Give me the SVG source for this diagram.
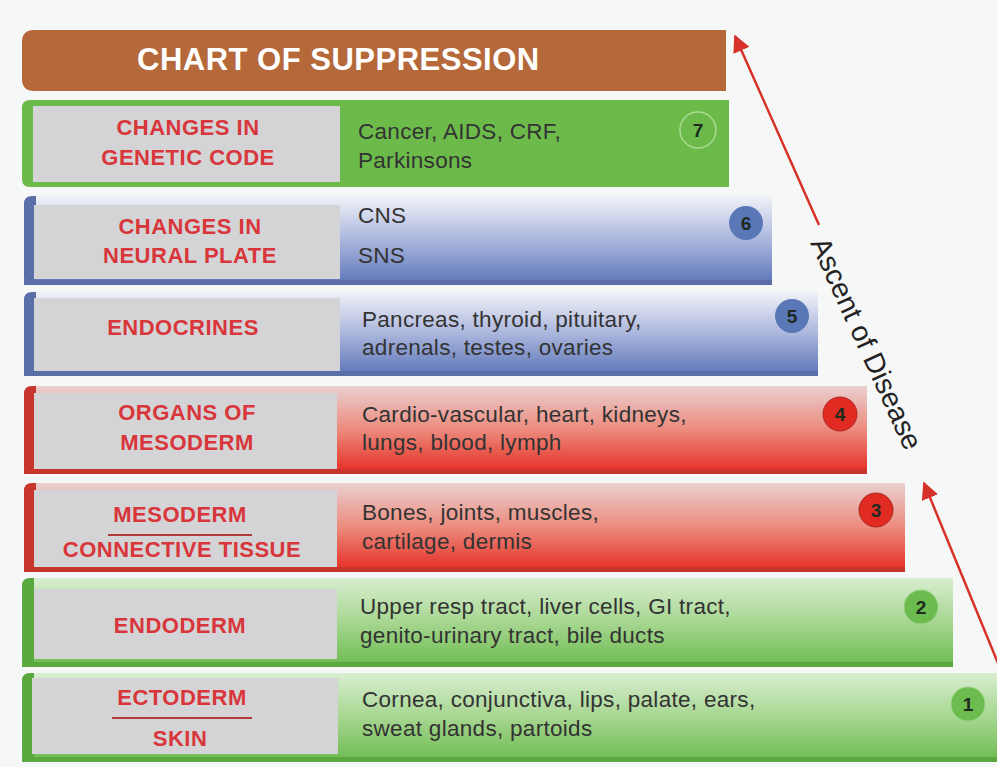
<svg xmlns="http://www.w3.org/2000/svg" width="997" height="767" viewBox="0 0 997 767">
<defs>
<linearGradient id="gBlue" x1="0" y1="0" x2="0" y2="1"><stop offset="0" stop-color="#f1f2f8"/><stop offset="0.5" stop-color="#a9b5dc"/><stop offset="1" stop-color="#5b74b8"/></linearGradient>
<linearGradient id="gRed" x1="0" y1="0" x2="0" y2="1"><stop offset="0" stop-color="#ead0d0"/><stop offset="0.5" stop-color="#ec8a7c"/><stop offset="1" stop-color="#e52a20"/></linearGradient>
<linearGradient id="gGreen" x1="0" y1="0" x2="0" y2="1"><stop offset="0" stop-color="#d8eed0"/><stop offset="0.5" stop-color="#a6d690"/><stop offset="1" stop-color="#6cbb4f"/></linearGradient>
<marker id="ah" viewBox="0 0 10 10" refX="9" refY="5" markerWidth="7" markerHeight="7" orient="auto"><path d="M0,0 L10,5 L0,10 z" fill="#d6322a"/></marker>
</defs>
<style>
.lbl{fill:#d8363a;font-family:"Liberation Sans",Arial,sans-serif;font-weight:bold;font-size:22px;letter-spacing:0.5px;text-anchor:middle}
.txt{fill:#333;font-family:"Liberation Sans",Arial,sans-serif;font-size:22.5px;letter-spacing:0.3px}
.box{fill:#d4d4d6}
.num{font-family:"Liberation Sans",Arial,sans-serif;font-weight:bold;font-size:19px;text-anchor:middle;fill:#1e2a1e}
.conn{stroke:#d6322a;stroke-width:2.5;fill:none}
</style>
<rect width="997" height="767" fill="#f6f7f7"/>

<g id="title">
<path d="M34,30 H726 V91 H34 Q22,91 22,79 V42 Q22,30 34,30 Z" fill="#b5683a"/>
<text x="137" y="70" font-family="'Liberation Sans',Arial,sans-serif" font-weight="bold" font-size="31" letter-spacing="0.5" fill="#ffffff">CHART OF SUPPRESSION</text>
</g>

<g id="row7">
<path d="M30,100 H729 V187 H30 Q22,187 22,179 V108 Q22,100 30,100 Z" fill="#6cba4a"/>
<rect class="box" x="33" y="106" width="307" height="76"/>
<text class="lbl" x="188" y="135">CHANGES IN</text>
<text class="lbl" x="188" y="165">GENETIC CODE</text>
<text class="txt" x="358" y="139">Cancer, AIDS, CRF,</text>
<text class="txt" x="358" y="168">Parkinsons</text>
<circle cx="698" cy="130" r="18" fill="#6cba4a" stroke="#a9dc92" stroke-width="1.5"/>
<text class="num" x="698" y="137">7</text>
</g>

<g id="row6">
<path d="M32,196 H772 V285 H32 Q24,285 24,277 V204 Q24,196 32,196 Z" fill="url(#gBlue)"/>
<path d="M32,196 Q24,196 24,204 V277 Q24,285 32,285 H36 V196 Z" fill="#5a6ea8"/>
<rect x="24" y="280" width="748" height="5" fill="#5a6ea8"/>
<rect class="box" x="34" y="205" width="306" height="74"/>
<text class="lbl" x="190" y="234">CHANGES IN</text>
<text class="lbl" x="190" y="263">NEURAL PLATE</text>
<text class="txt" x="358" y="223">CNS</text>
<text class="txt" x="358" y="263">SNS</text>
<circle cx="746" cy="223" r="17" fill="#5a77b8"/>
<text class="num" x="746" y="230">6</text>
</g>

<g id="row5">
<path d="M32,292 H818 V376 H32 Q24,376 24,368 V300 Q24,292 32,292 Z" fill="url(#gBlue)"/>
<path d="M32,292 Q24,292 24,300 V368 Q24,376 32,376 H36 V292 Z" fill="#5a6ea8"/>
<rect x="24" y="371" width="794" height="5" fill="#5a6ea8"/>
<rect class="box" x="34" y="298" width="306" height="73"/>
<text class="lbl" x="183" y="335">ENDOCRINES</text>
<text class="txt" x="362" y="327">Pancreas, thyroid, pituitary,</text>
<text class="txt" x="362" y="355">adrenals, testes, ovaries</text>
<circle cx="792" cy="316" r="17" fill="#5a77b8"/>
<text class="num" x="792" y="323">5</text>
</g>

<g id="row4">
<path d="M32,386 H867 V474 H32 Q24,474 24,466 V394 Q24,386 32,386 Z" fill="url(#gRed)"/>
<path d="M32,386 Q24,386 24,394 V466 Q24,474 32,474 H36 V386 Z" fill="#c8352c"/>
<rect x="24" y="469" width="843" height="5" fill="#c8352c"/>
<rect class="box" x="34" y="393" width="303" height="76"/>
<text class="lbl" x="187" y="420">ORGANS OF</text>
<text class="lbl" x="187" y="450">MESODERM</text>
<text class="txt" x="362" y="422">Cardio-vascular, heart, kidneys,</text>
<text class="txt" x="362" y="450">lungs, blood, lymph</text>
<circle cx="840" cy="414" r="17" fill="#e02a22" stroke="#a82a22" stroke-width="1"/>
<text class="num" x="840" y="421">4</text>
</g>

<g id="row3">
<path d="M32,483 H905 V572 H32 Q24,572 24,564 V491 Q24,483 32,483 Z" fill="url(#gRed)"/>
<path d="M32,483 Q24,483 24,491 V564 Q24,572 32,572 H36 V483 Z" fill="#c8352c"/>
<rect x="24" y="567" width="881" height="5" fill="#c8352c"/>
<rect class="box" x="34" y="490" width="303" height="77"/>
<text class="lbl" x="180" y="522">MESODERM</text>
<line x1="108" y1="535" x2="252" y2="535" stroke="#b23a3a" stroke-width="2"/>
<text class="lbl" x="182" y="557">CONNECTIVE TISSUE</text>
<text class="txt" x="362" y="520">Bones, joints, muscles,</text>
<text class="txt" x="362" y="549">cartilage, dermis</text>
<circle cx="876" cy="510" r="17" fill="#e02a22" stroke="#a82a22" stroke-width="1"/>
<text class="num" x="876" y="517">3</text>
</g>

<g id="row2">
<path d="M30,578 H953 V667 H30 Q22,667 22,659 V586 Q22,578 30,578 Z" fill="url(#gGreen)"/>
<path d="M30,578 Q22,578 22,586 V659 Q22,667 30,667 H34 V578 Z" fill="#5aa93e"/>
<rect x="22" y="662" width="931" height="5" fill="#5aa93e"/>
<rect class="box" x="34" y="589" width="303" height="70"/>
<text class="lbl" x="180" y="633">ENDODERM</text>
<text class="txt" x="360" y="614">Upper resp tract, liver cells, GI tract,</text>
<text class="txt" x="360" y="643">genito-urinary tract, bile ducts</text>
<circle cx="921" cy="607" r="17" fill="#6cbb4f" stroke="#9ad486" stroke-width="1"/>
<text class="num" x="921" y="614">2</text>
</g>

<g id="row1">
<path d="M30,673 H997 V762 H30 Q22,762 22,754 V681 Q22,673 30,673 Z" fill="url(#gGreen)"/>
<path d="M30,673 Q22,673 22,681 V754 Q22,762 30,762 H34 V673 Z" fill="#5aa93e"/>
<rect x="22" y="757" width="975" height="5" fill="#5aa93e"/>
<rect class="box" x="32" y="678" width="306" height="76"/>
<text class="lbl" x="182" y="705">ECTODERM</text>
<line x1="112" y1="718" x2="252" y2="718" stroke="#b23a3a" stroke-width="2"/>
<text class="lbl" x="180" y="746">SKIN</text>
<text class="txt" x="362" y="707">Cornea, conjunctiva, lips, palate, ears,</text>
<text class="txt" x="362" y="736">sweat glands, partoids</text>
<circle cx="968" cy="704" r="17" fill="#6cbb4f" stroke="#9ad486" stroke-width="1"/>
<text class="num" x="968" y="711">1</text>
</g>

<g id="connectors">
<line class="conn" x1="819" y1="225" x2="735" y2="36" marker-end="url(#ah)"/>
<line class="conn" x1="1000" y1="668" x2="924" y2="483" marker-end="url(#ah)"/>
</g>
<text x="0" y="0" transform="translate(810,243) rotate(65.5)" font-family="'Liberation Sans',Arial,sans-serif" font-size="28.5" fill="#222">Ascent of Disease</text>
</svg>
